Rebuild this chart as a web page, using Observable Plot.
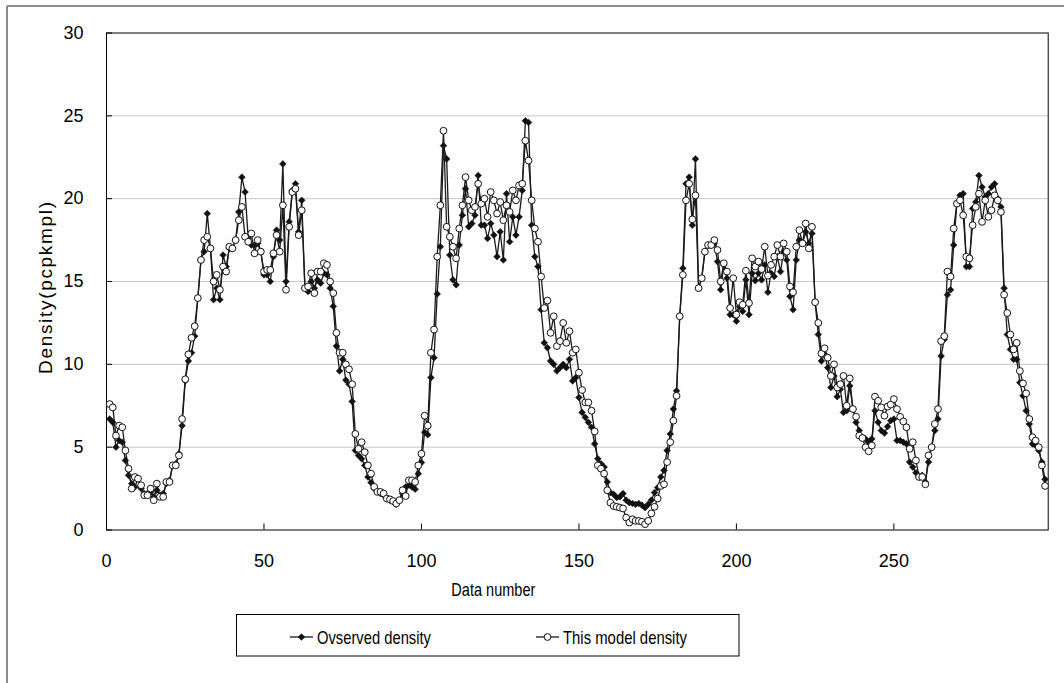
<!DOCTYPE html>
<html><head><meta charset="utf-8">
<script src="https://cdn.jsdelivr.net/npm/d3@7"></script>
<script src="https://cdn.jsdelivr.net/npm/@observablehq/plot@0.6"></script>
<style>body{margin:0;background:#fff;}</style>
</head><body><div id="chart"></div>
<script>
const observed = [
6.7,6.5,5.0,5.4,5.3,4.2,3.3,2.8,2.6,3.1,
2.5,2.2,2.2,2.3,2.0,2.4,2.1,2.2,2.8,3.0,
3.9,4.0,4.6,6.3,9.0,10.2,10.7,11.7,14.0,16.3,
16.8,19.1,17.0,13.9,14.6,13.9,16.6,15.9,17.0,17.0,
17.5,19.2,21.3,20.4,17.6,17.2,17.2,17.3,16.8,15.4,
15.4,15.0,16.5,18.1,17.5,22.1,15.0,18.6,20.5,20.9,
18.0,19.9,14.6,14.4,15.0,14.6,15.1,14.9,15.5,15.4,
14.6,13.5,11.1,9.6,10.3,9.05,8.8,7.76,4.8,4.5,
4.3,3.9,3.2,2.86,2.5,2.3,2.2,2.1,1.9,1.8,
1.7,1.55,1.8,2.2,2.6,2.7,2.6,2.46,3.4,4.07,
5.9,5.75,9.2,10.4,14.25,17.1,23.2,22.4,16.6,15.1,
14.8,17.2,19.0,20.6,18.3,18.5,19.0,21.4,18.4,18.4,
17.6,18.5,17.8,16.5,18.0,16.3,20.3,17.4,18.9,17.8,
18.9,20.5,24.7,24.6,18.4,16.5,15.9,13.3,11.3,11.0,
10.2,10.0,9.6,9.8,10.0,9.8,10.3,9.0,9.2,8.0,
7.1,6.8,6.5,6.2,5.2,4.3,4.0,3.8,2.9,2.26,
2.16,1.96,2.0,2.2,1.8,1.65,1.6,1.55,1.6,1.5,
1.35,1.55,1.8,2.26,2.56,3.2,3.6,4.8,5.8,7.3,
8.4,12.9,15.8,20.9,21.3,18.4,22.4,14.6,15.2,16.8,
17.2,17.2,17.3,16.2,14.5,16.0,15.2,13.0,13.0,12.6,
13.5,13.2,15.1,13.0,15.5,15.05,15.5,15.1,16.0,14.35,
15.5,15.3,16.5,15.6,16.8,16.3,14.1,13.3,16.3,17.5,
17.3,18.0,17.3,17.9,13.7,11.8,10.2,10.6,9.8,8.6,
9.3,8.05,8.5,7.1,7.2,8.7,7.3,6.5,6.0,5.6,
5.5,5.3,5.5,7.2,6.5,6.0,5.85,6.24,6.6,6.7,
5.4,5.4,5.3,5.2,4.1,3.8,3.45,3.2,3.3,2.9,
4.1,5.0,6.0,6.7,10.5,11.5,14.2,14.5,17.2,19.7,
20.2,20.3,15.9,15.9,19.4,19.8,21.4,20.7,20.1,20.3,
20.7,20.9,20.0,19.5,14.6,11.8,10.9,10.3,10.3,8.9,
8.1,7.2,6.4,5.2,5.1,4.8,4.1,3.06
];
const model = [
7.6,7.4,5.7,6.3,6.2,4.8,3.7,2.5,3.2,3.1,
2.7,2.1,2.1,2.5,1.8,2.8,2.0,2.0,2.9,2.9,
3.9,3.9,4.5,6.7,9.1,10.6,11.6,12.3,14.0,16.3,
17.5,17.7,17.0,15.0,15.4,14.5,15.9,15.6,17.1,17.0,
17.5,18.7,19.5,17.7,17.4,17.9,16.7,17.5,16.8,15.6,
15.7,15.7,16.7,17.8,16.8,19.6,14.5,18.3,20.4,20.6,
17.8,19.3,14.6,14.7,15.5,14.3,15.6,15.6,16.1,16.0,
15.0,14.3,11.9,10.7,10.7,10.0,9.7,8.8,5.8,4.9,
5.3,4.7,3.9,3.4,2.6,2.3,2.3,2.2,1.9,1.85,
1.75,1.6,1.8,2.4,2.05,3.0,3.0,2.9,3.9,4.6,
6.9,6.3,10.7,12.1,16.5,19.6,24.1,18.3,17.7,17.1,
16.4,18.2,19.6,21.3,19.9,19.3,19.5,20.9,19.7,20.0,
18.9,20.4,19.9,19.1,19.8,18.7,19.6,19.2,20.5,19.9,
20.8,20.9,23.5,22.3,19.9,18.2,17.4,15.3,13.4,13.85,
11.9,12.9,11.1,11.4,12.5,11.3,12.0,10.7,10.9,9.5,
8.45,7.7,7.7,7.2,5.95,3.9,3.7,3.4,2.4,1.65,
1.45,1.4,1.35,1.3,0.75,0.45,0.65,0.55,0.55,0.5,
0.35,0.55,1.0,1.4,1.9,2.66,2.76,4.1,5.3,6.6,
8.1,12.9,15.4,19.9,20.9,18.75,20.2,14.6,15.2,16.8,
17.2,17.2,17.5,16.9,15.0,16.1,15.6,13.4,15.2,13.0,
13.75,13.6,15.65,13.7,16.4,15.9,16.2,15.75,17.1,15.35,
16.0,16.5,17.2,16.5,17.3,16.8,14.7,14.35,17.1,18.1,
17.3,18.5,17.0,18.3,13.75,12.5,10.66,10.97,10.4,9.3,
10.0,8.6,8.8,9.3,7.5,9.15,7.3,6.84,5.7,5.55,
5.0,4.75,5.1,8.05,7.8,7.4,6.9,7.45,7.57,7.9,
7.3,6.83,6.55,6.2,4.9,5.3,4.2,3.2,3.2,2.76,
4.5,5.0,6.4,7.3,11.4,11.7,15.6,15.3,18.2,19.7,
19.9,19.0,16.5,16.4,18.4,19.5,20.3,18.6,19.9,18.9,
19.3,20.2,19.9,19.2,14.2,13.1,11.8,10.9,11.3,9.6,
8.85,8.25,6.7,5.6,5.4,5.0,3.9,2.66
];
const xTicks = [0, 50, 100, 150, 200, 250];
const yTicks = [0, 5, 10, 15, 20, 25, 30];
const gridValues = [5, 10, 15, 20, 25];
const seriesNames = ["Ovserved density", "This model density"];
const xLabel = "Data number";
const yLabel = "Density(pcpkmpl)";

const obsData = observed.map((v, i) => ({x: i + 1, y: v}));
const modData = model.map((v, i) => ({x: i + 1, y: v}));

const W = 1064, H = 683, mL = 106, mT = 32.5, mR = 16.3, mB = 153.5;
const font = "'Liberation Sans', Arial, sans-serif";
const ink = "#111";

const plot = Plot.plot({
  width: W, height: H,
  marginLeft: mL, marginTop: mT, marginRight: mR, marginBottom: mB,
  style: {fontFamily: font, fontSize: "18px", background: "#fff", color: "#000", overflow: "visible"},
  x: {domain: [0, 299]},
  y: {domain: [0, 30]},
  marks: [
    Plot.gridY(gridValues, {stroke: "#c6c6c6", strokeOpacity: 1, strokeWidth: 1}),
    Plot.tickY(yTicks, {y: d => d, insetRight: W - mL - mR - 6, stroke: "#000"}),
    Plot.tickX(xTicks, {x: d => d, insetTop: H - mT - mB - 6, stroke: "#000"}),
    Plot.frame({stroke: "#000", strokeWidth: 1}),
    Plot.axisY(yTicks, {tickSize: 0, tickPadding: 23, label: null, fontSize: 18, fill: "#000"}),
    Plot.axisX(xTicks, {tickSize: 0, tickPadding: 24, label: null, fontSize: 18, fill: "#000"}),
    Plot.line(obsData, {x: "x", y: "y", stroke: "#1a1a1a", strokeWidth: 1.3}),
    Plot.dot(obsData, {x: "x", y: "y", symbol: "diamond2", r: 3.0, fill: ink, stroke: ink, strokeWidth: 0.6}),
    Plot.line(modData, {x: "x", y: "y", stroke: "#1a1a1a", strokeWidth: 1.3}),
    Plot.dot(modData, {x: "x", y: "y", symbol: "circle", r: 3.4, fill: "#fff", stroke: ink, strokeWidth: 1}),
    Plot.text([xLabel], {text: d => d, className: "xlab", frameAnchor: "bottom", textAnchor: "middle", dx: -84, dy: 60, lineAnchor: "middle", fontSize: 19, fill: "#000"}),
    Plot.text([yLabel], {text: d => d, className: "ylab", frameAnchor: "left", textAnchor: "middle", dx: -60.5, dy: 6.5, rotate: -90, lineAnchor: "middle", fontSize: 19, fill: "#000"})
  ]
});

const svg = d3.select(plot);
svg.selectAll(".xlab text").attr("textLength", 84).attr("lengthAdjust", "spacingAndGlyphs");
svg.selectAll(".ylab text").attr("textLength", 172).attr("lengthAdjust", "spacing");

// chart-area border (top and left edges visible)
svg.append("line").attr("x1", 7).attr("x2", W).attr("y1", 6).attr("y2", 6).attr("stroke", "#8a8a8a").attr("stroke-width", 2);
svg.append("line").attr("x1", 7).attr("x2", 7).attr("y1", 6).attr("y2", H).attr("stroke", "#8a8a8a").attr("stroke-width", 2);

// legend
const lg = svg.append("g");
lg.append("rect").attr("x", 236.5).attr("y", 614.5).attr("width", 502.5).attr("height", 41.5)
  .attr("fill", "none").attr("stroke", "#000").attr("stroke-width", 1);
const items = [
  {name: seriesNames[0], x0: 290, type: "diamond", len: 114},
  {name: seriesNames[1], x0: 536, type: "circle", len: 124}
];
const ly = 637;
items.forEach(it => {
  lg.append("line").attr("x1", it.x0).attr("x2", it.x0 + 23).attr("y1", ly).attr("y2", ly)
    .attr("stroke", "#1a1a1a").attr("stroke-width", 1.3);
  if (it.type === "diamond") {
    lg.append("path").attr("d", d3.symbol(d3.symbolDiamond2, Math.PI * 3.0 * 3.0)())
      .attr("transform", `translate(${it.x0 + 11.5},${ly})`).attr("fill", ink).attr("stroke", ink).attr("stroke-width", 0.6);
  } else {
    lg.append("circle").attr("cx", it.x0 + 11.5).attr("cy", ly).attr("r", 3.4)
      .attr("fill", "#fff").attr("stroke", ink).attr("stroke-width", 1);
  }
  lg.append("text").attr("x", it.x0 + 27).attr("y", ly).attr("dy", "0.36em")
    .attr("text-anchor", "start").attr("font-family", font).attr("font-size", 19).attr("fill", "#000")
    .attr("textLength", it.len).attr("lengthAdjust", "spacingAndGlyphs").text(it.name);
});

document.getElementById("chart").appendChild(plot);
</script>
</body></html>
